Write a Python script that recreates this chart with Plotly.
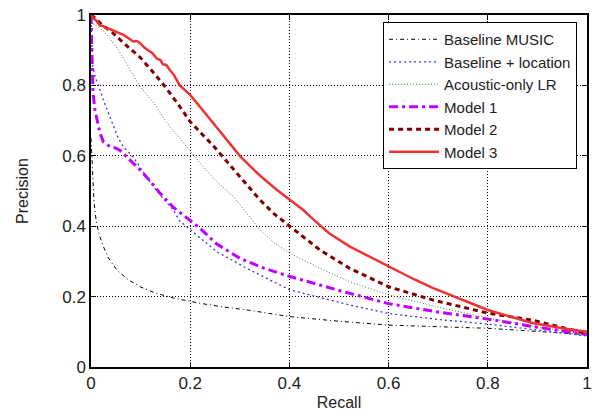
import plotly.graph_objects as go

# Baseline MUSIC
music_r = [0.0, 0.003, 0.006, 0.011, 0.018, 0.025, 0.035, 0.052, 0.075, 0.099, 0.13, 0.166, 0.2, 0.22, 0.26, 0.32, 0.401, 0.5, 0.6, 0.7, 0.8, 0.9, 1.0]
music_p = [0.65, 0.56, 0.47, 0.408, 0.37, 0.342, 0.31, 0.276, 0.248, 0.228, 0.21, 0.196, 0.186, 0.181, 0.172, 0.161, 0.143, 0.13, 0.119, 0.114, 0.11, 0.101, 0.092]

# Baseline + location
loc_r = [0.0, 0.003, 0.008, 0.015, 0.025, 0.035, 0.045, 0.055, 0.065, 0.085, 0.105, 0.126, 0.146, 0.166, 0.179, 0.2, 0.22, 0.253, 0.32, 0.401, 0.522, 0.6, 0.7, 0.8, 0.9, 1.0]
loc_p = [1.0, 0.86, 0.825, 0.8, 0.758, 0.72, 0.683, 0.65, 0.626, 0.597, 0.555, 0.512, 0.478, 0.446, 0.415, 0.39, 0.366, 0.328, 0.276, 0.219, 0.176, 0.152, 0.135, 0.122, 0.105, 0.088]

# Acoustic-only LR
lr_r = [0.0, 0.011, 0.025, 0.045, 0.06, 0.072, 0.085, 0.099, 0.115, 0.132, 0.145, 0.159, 0.179, 0.2, 0.22, 0.247, 0.287, 0.315, 0.341, 0.37, 0.401, 0.462, 0.522, 0.6, 0.7, 0.8, 0.9, 1.0]
lr_p = [0.98, 0.97, 0.955, 0.92, 0.89, 0.862, 0.83, 0.796, 0.77, 0.74, 0.71, 0.683, 0.65, 0.612, 0.579, 0.536, 0.484, 0.435, 0.389, 0.352, 0.323, 0.28, 0.242, 0.205, 0.17, 0.139, 0.114, 0.092]

# Model 1
m1_r = [0.0, 0.002, 0.004, 0.008, 0.012, 0.018, 0.025, 0.038, 0.05, 0.058, 0.072, 0.085, 0.099, 0.12, 0.139, 0.165, 0.2, 0.22, 0.253, 0.3, 0.35, 0.401, 0.522, 0.6, 0.7, 0.8, 0.9, 1.0]
m1_p = [1.0, 0.88, 0.78, 0.73, 0.7, 0.665, 0.64, 0.626, 0.622, 0.616, 0.597, 0.58, 0.56, 0.527, 0.494, 0.455, 0.415, 0.394, 0.35, 0.309, 0.28, 0.257, 0.209, 0.18, 0.156, 0.136, 0.113, 0.092]

# Model 2
m2_r = [0.0, 0.005, 0.02, 0.045, 0.07, 0.099, 0.125, 0.153, 0.179, 0.2, 0.225, 0.247, 0.275, 0.3, 0.341, 0.37, 0.401, 0.462, 0.522, 0.6, 0.69, 0.8, 0.89, 1.0]
m2_p = [1.0, 0.995, 0.975, 0.948, 0.915, 0.88, 0.838, 0.79, 0.74, 0.697, 0.66, 0.628, 0.582, 0.54, 0.474, 0.434, 0.399, 0.332, 0.28, 0.228, 0.19, 0.153, 0.133, 0.095]

# Model 3
m3_r = [0.0, 0.005, 0.01, 0.015, 0.018, 0.025, 0.03, 0.038, 0.045, 0.052, 0.058, 0.065, 0.07, 0.078, 0.085, 0.092, 0.099, 0.107, 0.115, 0.123, 0.132, 0.14, 0.145, 0.152, 0.159, 0.167, 0.179, 0.2, 0.225, 0.247, 0.275, 0.3, 0.327, 0.347, 0.375, 0.401, 0.42, 0.428, 0.442, 0.48, 0.522, 0.6, 0.65, 0.69, 0.75, 0.8, 0.89, 0.95, 1.0]
m3_p = [1.0, 0.99, 0.985, 0.975, 0.97, 0.968, 0.962, 0.96, 0.955, 0.952, 0.948, 0.944, 0.94, 0.932, 0.925, 0.926, 0.92, 0.908, 0.9, 0.893, 0.877, 0.872, 0.86, 0.858, 0.844, 0.83, 0.8, 0.773, 0.73, 0.692, 0.645, 0.6, 0.562, 0.536, 0.503, 0.474, 0.455, 0.446, 0.427, 0.38, 0.342, 0.285, 0.25, 0.224, 0.19, 0.162, 0.125, 0.11, 0.1]

series = [
    ("Baseline MUSIC", music_r, music_p, "#000000", 1, "4px,3px,1px,3px"),
    ("Baseline + location", loc_r, loc_p, "#3333ff", 1.3, "2px,3px"),
    ("Acoustic-only LR", lr_r, lr_p, "#2a8a2a", 1, "1px,2px"),
    ("Model 1", m1_r, m1_p, "#c000ff", 3, "9px,4px,3px,4px"),
    ("Model 2", m2_r, m2_p, "#800000", 3, "5px,4px"),
    ("Model 3", m3_r, m3_p, "#ee3333", 2.5, "solid"),
]

fig = go.Figure()
for name, r, p, c, w, d in series:
    fig.add_trace(go.Scatter(x=r, y=p, mode="lines", name=name,
                             line=dict(color=c, width=w, dash=d)))

axis_common = dict(
    showline=True, linecolor="black", linewidth=1.5, mirror="allticks",
    ticks="inside", ticklen=5, tickcolor="black",
    showgrid=True, gridcolor="#000000", griddash="1px,2px", gridwidth=1,
    zeroline=False, tickfont=dict(size=17, color="#222222"), automargin=False,
    ticklabeloverflow="allow",
)
fig.update_xaxes(range=[0, 1], tickvals=[0, 0.2, 0.4, 0.6, 0.8, 1],
                 ticktext=["0", "0.2", "0.4", "0.6", "0.8", "1"],
                 title=dict(text="Recall", font=dict(size=16, color="#222222"), standoff=5),
                 **axis_common)
fig.update_yaxes(range=[0, 1], tickvals=[0, 0.2, 0.4, 0.6, 0.8, 1],
                 ticktext=["0", "0.2", "0.4", "0.6", "0.8", "1"],
                 title=dict(text="Precision", font=dict(size=16, color="#222222"), standoff=30),
                 **axis_common)

fig.update_layout(
    width=595, height=420,
    margin=dict(l=91, r=8, t=15, b=53),
    plot_bgcolor="white", paper_bgcolor="white",
    font=dict(family="Liberation Sans, Arial, sans-serif", size=16, color="#222222"),
    legend=dict(x=0.98, y=0.98, xanchor="right", yanchor="top",
                bgcolor="white", bordercolor="black", borderwidth=1,
                font=dict(size=15), tracegroupgap=0, itemwidth=50),
)
fig.write_html("out.html", config={"displayModeBar": False},
               post_script="document.body.style.margin='0';document.body.style.overflow='hidden';")
